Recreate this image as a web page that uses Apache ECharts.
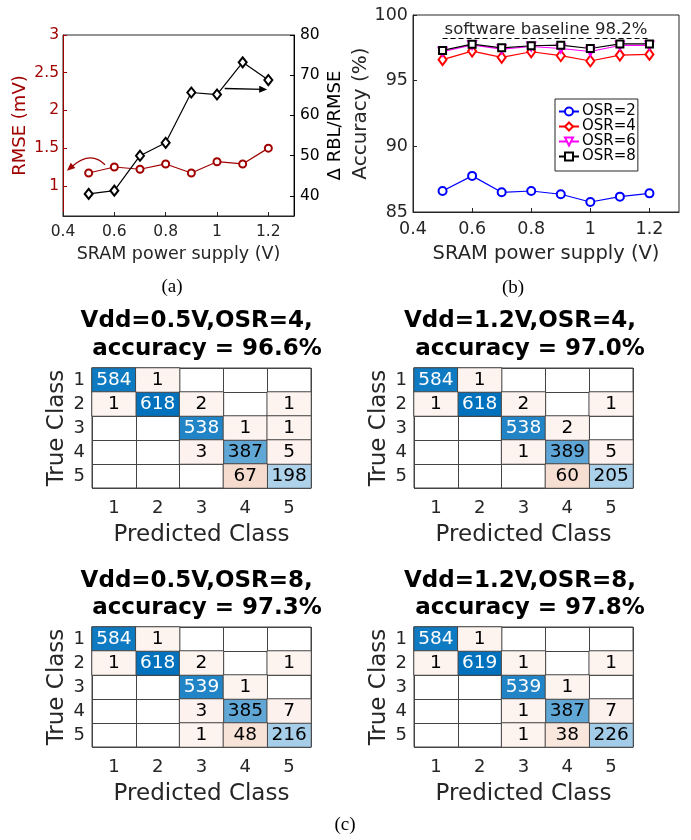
<!DOCTYPE html>
<html>
<head>
<meta charset="utf-8">
<script src="https://cdn.jsdelivr.net/npm/echarts@6/dist/echarts.min.js"></script>
<style>
html,body{margin:0;padding:0;background:#fff;}
#chart{width:691px;height:840px;}
</style>
</head>
<body>
<div id="chart"></div>
<script>
// supply voltage sweep
var vdd = [0.5, 0.6, 0.7, 0.8, 0.9, 1.0, 1.1, 1.2];
var xTicks = [0.4, 0.6, 0.8, 1, 1.2];
// panel (a)
var rmse = [1.17, 1.25, 1.22, 1.29, 1.17, 1.32, 1.29, 1.50];
var rblRatio = [40.5, 41.3, 50.0, 53.2, 65.7, 65.2, 73.2, 68.8];
var rmseTicks = [1, 1.5, 2, 2.5, 3];
var ratioTicks = [40, 50, 60, 70, 80];
// arrows of panel (a), in data units: start, control, end
var rmseArrow = [[0.5636, 1.28], [0.5075, 1.475], [0.4156, 1.20]];
var ratioArrow = [[1.03, 66.7], [1.18, 66.5]];
// panel (b)
var osrNames = ['OSR=2', 'OSR=4', 'OSR=6', 'OSR=8'];
var acc2 = [86.6, 87.75, 86.5, 86.6, 86.35, 85.76, 86.17, 86.42];
var acc4 = [96.6, 97.25, 96.77, 97.2, 96.9, 96.5, 96.95, 97.0];
var acc6 = [97.2, 97.72, 97.4, 97.6, 97.45, 97.22, 97.68, 97.68];
var acc8 = [97.3, 97.78, 97.5, 97.66, 97.7, 97.45, 97.8, 97.8];
var baseline = 98.2;
// panel (c) confusion matrices, rows = true class, cols = predicted
var classes = ['1', '2', '3', '4', '5'];
var cm05osr4 = [[584,1,0,0,0],[1,618,2,0,1],[0,0,538,1,1],[0,0,3,387,5],[0,0,0,67,198]];
var cm12osr4 = [[584,1,0,0,0],[1,618,2,0,1],[0,0,538,2,0],[0,0,1,389,5],[0,0,0,60,205]];
var cm05osr8 = [[584,1,0,0,0],[1,618,2,0,1],[0,0,539,1,0],[0,0,3,385,7],[0,0,1,48,216]];
var cm12osr8 = [[584,1,0,0,0],[1,619,1,0,1],[0,0,539,1,0],[0,0,1,387,7],[0,0,1,38,226]];
var cmTitles = [
  ['Vdd=0.5V,OSR=4,', 'accuracy = 96.6%'],
  ['Vdd=1.2V,OSR=4,', 'accuracy = 97.0%'],
  ['Vdd=0.5V,OSR=8,', 'accuracy = 97.3%'],
  ['Vdd=1.2V,OSR=8,', 'accuracy = 97.8%']
];

var FONT = 'DejaVu Sans';
var TXT = '#262626';
var DARKRED = '#a00000';

function pairs(xs, ys){
  var out = [];
  for (var i = 0; i < xs.length; i++) out.push([xs[i], ys[i]]);
  return out;
}
function cells(mat, diag){
  var out = [];
  for (var r = 0; r < 5; r++){
    for (var c = 0; c < 5; c++){
      var v = mat[r][c];
      if (!v || (r === c) !== diag) continue;
      var item = {value: [c, r, v]};
      if (v > 450) item.label = {color: '#fff'};
      out.push(item);
    }
  }
  return out;
}

var chart = echarts.init(document.getElementById('chart'), null, {renderer: 'canvas'});

var grids = [
  {left: 63, top: 35, width: 231, height: 181},
  {left: 413, top: 15, width: 266, height: 197},
  {left: 92, top: 368, width: 219, height: 120},
  {left: 414, top: 368, width: 219, height: 120},
  {left: 92, top: 627, width: 219, height: 120},
  {left: 414, top: 627, width: 219, height: 120}
];
grids.forEach(function(g, i){
  g.show = true;
  g.borderColor = i < 2 ? TXT : '#444';
  g.borderWidth = 1;
  g.backgroundColor = 'transparent';
});

var xAxes = [], yAxes = [];
function valueX(grid, fs, gap, nameFs, nameGap){
  return {
    type: 'value', gridIndex: grid, min: 0.4, max: 1.3,
    name: 'SRAM power supply (V)', nameLocation: 'middle', nameGap: nameGap,
    nameTextStyle: {fontFamily: FONT, fontSize: nameFs, color: TXT},
    axisLine: {lineStyle: {color: TXT}},
    axisTick: {inside: true, length: 4, customValues: xTicks, lineStyle: {color: TXT}},
    axisLabel: {customValues: xTicks, fontFamily: FONT, fontSize: fs, color: TXT, margin: gap},
    splitLine: {show: false}
  };
}
xAxes.push(valueX(0, 15.5, 8, 17.5, 29));
xAxes.push(valueX(1, 17.5, 8, 19.5, 32));

yAxes.push({
  type: 'value', gridIndex: 0, min: 0.6, max: 3, position: 'left',
  name: 'RMSE (mV)', nameLocation: 'middle', nameGap: 34, nameRotate: 90,
  nameTextStyle: {fontFamily: FONT, fontSize: 18, color: DARKRED},
  axisLine: {show: true, lineStyle: {color: DARKRED}},
  axisTick: {show: true, inside: true, length: 4, customValues: rmseTicks, lineStyle: {color: DARKRED}},
  axisLabel: {customValues: rmseTicks, fontFamily: FONT, fontSize: 15.5, color: DARKRED, margin: 4},
  splitLine: {show: false}
});
yAxes.push({
  type: 'value', gridIndex: 0, min: 35, max: 80, position: 'right',
  name: 'Δ RBL/RMSE', nameLocation: 'middle', nameGap: 32, nameRotate: 90,
  nameTextStyle: {fontFamily: FONT, fontSize: 18, color: '#000'},
  axisLine: {show: true, lineStyle: {color: '#000'}},
  axisTick: {show: true, inside: true, length: 4, customValues: ratioTicks, lineStyle: {color: '#000'}},
  axisLabel: {customValues: ratioTicks, fontFamily: FONT, fontSize: 15.5, color: '#000', margin: 6},
  splitLine: {show: false}
});
yAxes.push({
  type: 'value', gridIndex: 1, min: 85, max: 100, interval: 5,
  name: 'Accuracy (%)', nameLocation: 'middle', nameGap: 39, nameRotate: 90,
  nameTextStyle: {fontFamily: FONT, fontSize: 20, color: TXT},
  axisLine: {show: true, lineStyle: {color: TXT}},
  axisTick: {show: true, inside: true, length: 4, lineStyle: {color: TXT}},
  axisLabel: {fontFamily: FONT, fontSize: 17.5, color: TXT, margin: 5},
  splitLine: {show: false}
});

for (var k = 0; k < 4; k++){
  xAxes.push({
    type: 'category', gridIndex: 2 + k, data: classes,
    name: 'Predicted Class', nameLocation: 'middle', nameGap: 36,
    nameTextStyle: {fontFamily: FONT, fontSize: 23, color: TXT},
    axisLine: {show: false}, axisTick: {show: false},
    axisLabel: {fontFamily: FONT, fontSize: 18, color: TXT, margin: 11},
    splitLine: {show: true, interval: 0, lineStyle: {color: '#444', width: 1}}
  });
  yAxes.push({
    type: 'category', gridIndex: 2 + k, data: classes, inverse: true,
    name: 'True Class', nameLocation: 'middle', nameGap: 23, nameRotate: 90,
    nameTextStyle: {fontFamily: FONT, fontSize: 23, color: TXT},
    axisLine: {show: false}, axisTick: {show: false},
    axisLabel: {fontFamily: FONT, fontSize: 18, color: TXT, margin: 7},
    splitLine: {show: true, interval: 0, lineStyle: {color: '#444', width: 1}}
  });
}

var series = [];
// (a)
series.push({
  type: 'line', name: 'RMSE', xAxisIndex: 0, yAxisIndex: 0, data: pairs(vdd, rmse),
  symbol: 'emptyCircle', symbolSize: 7,
  lineStyle: {color: DARKRED, width: 1.2},
  itemStyle: {color: DARKRED, borderWidth: 1.2}
});
series.push({
  type: 'line', name: 'ratio', xAxisIndex: 0, yAxisIndex: 1, data: pairs(vdd, rblRatio),
  symbol: 'emptyDiamond', symbolSize: [8, 10],
  lineStyle: {color: '#000', width: 1.2},
  itemStyle: {color: '#000', borderWidth: 1.2},
  markLine: {
    silent: true, symbol: ['none', 'triangle'], symbolSize: [7, 8],
    label: {show: false},
    lineStyle: {color: '#000', width: 1.3, type: 'solid'},
    data: [[{coord: ratioArrow[0]}, {coord: ratioArrow[1]}]]
  }
});
// (b)
var accSets = [acc2, acc4, acc6, acc8];
var accColors = ['#0000ff', '#ff0000', '#ff00ff', '#000000'];
var accSymbols = ['emptyCircle', 'emptyDiamond', 'emptyTriangle', 'emptyRect'];
var accSizes = [8, [8, 11], 8, 7];
for (var s = 0; s < 4; s++){
  var sr = {
    type: 'line', name: osrNames[s], xAxisIndex: 1, yAxisIndex: 2, data: pairs(vdd, accSets[s]),
    symbol: accSymbols[s], symbolSize: accSizes[s], symbolRotate: s === 2 ? 180 : 0,
    lineStyle: {color: accColors[s], width: 1.2},
    itemStyle: {color: accColors[s], borderWidth: 1.2}
  };
  if (s === 3){
    sr.markLine = {
      silent: true, symbol: ['none', 'none'],
      label: {show: true, position: 'middle', formatter: 'software baseline 98.2%',
        fontFamily: FONT, fontSize: 16.5, color: TXT, distance: 0},
      lineStyle: {color: '#000', width: 1.2, type: [5, 3]},
      data: [[{coord: [0.5, baseline]}, {coord: [1.2, baseline]}]]
    };
  }
  series.push(sr);
}
// (c)
var mats = [cm05osr4, cm12osr4, cm05osr8, cm12osr8];
var diagIdx = [], offIdx = [];
for (var m = 0; m < 4; m++){
  [true, false].forEach(function(isDiag){
    (isDiag ? diagIdx : offIdx).push(series.length);
    series.push({
      type: 'heatmap', xAxisIndex: 2 + m, yAxisIndex: 3 + m,
      data: cells(mats[m], isDiag),
      label: {show: true, fontFamily: FONT, fontSize: 18.5, color: '#000'},
      itemStyle: {borderColor: '#444', borderWidth: 1},
      emphasis: {disabled: true}
    });
  });
}

var graphics = [];
var titlePos = [
  [[196.7, 320.7], [207, 349.3]],
  [[520, 320.7], [530, 349.3]],
  [[196.7, 580.7], [207, 608.3]],
  [[520, 580.7], [530, 608.3]]
];
function addText(txt, x, y, font, color){
  graphics.push({type: 'text', x: x, y: y, silent: true,
    style: {text: txt, font: font, fill: color, textAlign: 'center', textVerticalAlign: 'middle',
      align: 'center', verticalAlign: 'middle'}});
}
for (var t = 0; t < 4; t++){
  addText(cmTitles[t][0], titlePos[t][0][0], titlePos[t][0][1], 'bold 23px "DejaVu Sans"', '#000');
  addText(cmTitles[t][1], titlePos[t][1][0], titlePos[t][1][1], 'bold 23px "DejaVu Sans"', '#000');
}
addText('(a)', 172, 287, '19px "Liberation Serif"', '#000');
addText('(b)', 513, 288, '19px "Liberation Serif"', '#000');
addText('(c)', 345, 825, '19px "Liberation Serif"', '#000');

chart.setOption({
  animation: false,
  backgroundColor: '#fff',
  textStyle: {fontFamily: FONT},
  grid: grids,
  xAxis: xAxes,
  yAxis: yAxes,
  legend: {
    data: osrNames, orient: 'vertical', left: 555, top: 99,
    backgroundColor: '#fff', borderColor: TXT, borderWidth: 1,
    padding: [5, 2, 7, 3], itemGap: 0, itemWidth: 20, itemHeight: 10,
    textStyle: {fontFamily: FONT, fontSize: 15, color: '#000', lineHeight: 14.3, padding: [0, 0, 0, -2]}
  },
  visualMap: [
    {type: 'continuous', show: false, min: 0, max: 619, dimension: 2, seriesIndex: diagIdx,
      inRange: {color: ['#ffffff', '#0072bd']}},
    {type: 'continuous', show: false, min: 1, max: 67, dimension: 2, seriesIndex: offIdx,
      inRange: {color: ['#fdf3ef', '#f6dccf']}}
  ],
  series: series,
  graphic: graphics
});

// curved arrow pointing to the RMSE axis (quadratic bezier + head)
var px = rmseArrow.map(function(p){
  return chart.convertToPixel({xAxisIndex: 0, yAxisIndex: 0}, p);
});
var tip = px[2], dx = px[2][0] - px[1][0], dy = px[2][1] - px[1][1];
var len = Math.sqrt(dx * dx + dy * dy); dx /= len; dy /= len;
var headL = 8, headW = 3.5;
var base = [tip[0] - dx * headL, tip[1] - dy * headL];
graphics.push({type: 'bezierCurve', silent: true,
  shape: {x1: px[0][0], y1: px[0][1], cpx1: px[1][0], cpy1: px[1][1],
    x2: base[0] + dx * 2, y2: base[1] + dy * 2},
  style: {stroke: DARKRED, lineWidth: 1.3, fill: null}});
graphics.push({type: 'polygon', silent: true,
  shape: {points: [tip, [base[0] - dy * headW, base[1] + dx * headW], [base[0] + dy * headW, base[1] - dx * headW]]},
  style: {fill: DARKRED}});
chart.setOption({graphic: graphics});
</script>
</body>
</html>
